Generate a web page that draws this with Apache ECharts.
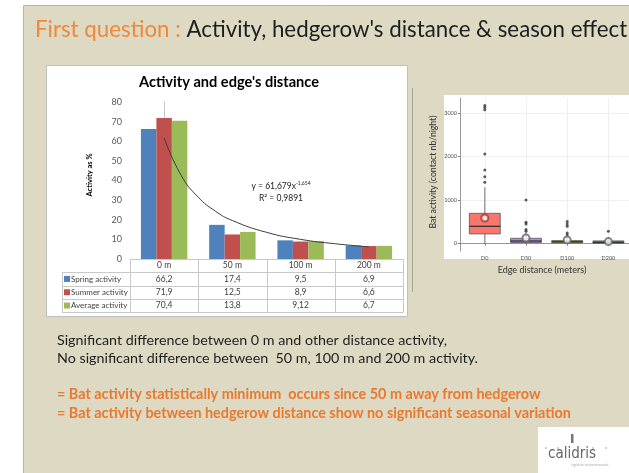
<!DOCTYPE html>
<html><head><meta charset="utf-8">
<script src="https://cdn.jsdelivr.net/npm/echarts@6.0.0/dist/echarts.min.js"></script>
<style>html,body{margin:0;padding:0;background:#fff}#c{width:629px;height:473px}</style>
</head><body><div id="c"></div>
<script>
// ---------- data ----------
const categories = ['0 m', '50 m', '100 m', '200 m'];
const seriesNames = ['Spring activity', 'Summer activity', 'Average activity'];
const springActivity = [66.2, 17.4, 9.5, 6.9];
const summerActivity = [71.9, 12.5, 8.9, 6.6];
const averageActivity = [70.4, 13.8, 9.12, 6.7];
// power trendline (x in category units)
const trendX = [0, 0.25, 0.5, 0.75, 1, 1.5, 2, 2.5, 3];
const trendY = [61.7, 42.6, 31.5, 24.4, 19.6, 13.6, 10.0, 7.8, 6.2];

const boxCategories = ['D0', 'D50', 'D100', 'D200'];
const boxMin = [0, 0, 0, 0];
const boxQ1 = [223, 25, 18, 8];
const boxMedian = [398, 60, 42, 30];
const boxQ3 = [697, 122, 69, 62];
const boxMax = [1295, 250, 150, 140];
const boxMean = [590, 130, 85, 46];
const outliersD0 = [1410, 1540, 1694, 2062, 3080, 3133, 3180];
const outliersD50 = [1004, 490, 452, 322, 283];
const outliersD100 = [506, 452, 398, 246, 200];
const outliersD200 = [283];
const boxTicks = [0, 1000, 2000, 3000];

const slideTitleA = 'First question : ';
const slideTitleB = "Activity, hedgerow's distance & season effect";
const chartTitle = "Activity and edge's distance";
const yName = 'Activity as %';
const trendEq = ['y = 61,679x', '-1,654', 'R² = 0,9891'];
const boxYName = 'Bat activity (contact nb/night)';
const boxXName = 'Edge distance (meters)';
const bodyLines = ['Significant difference between 0 m and other distance activity,',
                   'No significant difference between  50 m, 100 m and 200 m activity.'];
const conclLines = ['= Bat activity statistically minimum  occurs since 50 m away from hedgerow',
                    '= Bat activity between hedgerow distance show no significant seasonal variation'];

// ---------- styles / layout ----------
const FONT = 'Lato, "Open Sans", sans-serif';
const barColors = ['#4f81bd', '#c0504d', '#9bbb59'];
const boxColors = ['#F8766D', '#C77CFF', '#7CAE00', '#00BFC4'];
const G1 = {left: 130, top: 102, width: 273, height: 157};
const GA = {left: 460, top: 98, width: 175, height: 153};
const GB = {left: 464.2, top: 98, width: 166.7, height: 153};

const chart = echarts.init(document.getElementById('c'), null, {renderer: 'canvas'});
const fmt = v => String(v).replace('.', ',');
const allSeries = [springActivity, summerActivity, averageActivity];

const graphics = [];
// slide background
graphics.push({type: 'rect', z: -10, shape: {x: 23.5, y: 5.5, width: 620, height: 480},
  style: {fill: '#DDD9C3', stroke: '#b9b5a1', lineWidth: 1}});
// left chart panel
graphics.push({type: 'rect', z: -5, shape: {x: 46.5, y: 65.5, width: 361, height: 251},
  style: {fill: '#fff', stroke: '#bfbfbf', lineWidth: 1}});
// right figure frame line
graphics.push({type: 'line', z: -5, shape: {x1: 412.5, y1: 88, x2: 412.5, y2: 292}, style: {stroke: '#a9a595', lineWidth: 1}});
graphics.push({type: 'rect', z: -5, shape: {x: 444, y: 95, width: 200, height: 164}, style: {fill: '#fff'}});
// slide title
graphics.push({type: 'text', x: 35, y: 30, style: {
  text: '{o|' + slideTitleA + '}{k|' + slideTitleB + '}', verticalAlign: 'middle',
  rich: {o: {fill: '#f0883a', fontSize: 22.3, fontFamily: FONT}, k: {fill: '#1e1e1e', fontSize: 22.3, fontFamily: FONT}}}});
// chart title
graphics.push({type: 'text', x: 229, y: 82, style: {text: chartTitle, align: 'center', verticalAlign: 'middle',
  fontSize: 14.6, fontWeight: 'bold', fontFamily: FONT, fill: '#000'}});
graphics.push({type: 'text', x: 90, y: 175, rotation: Math.PI / 2, style: {text: yName, align: 'center', verticalAlign: 'middle',
  fontSize: 7.5, fontWeight: 'bold', fontFamily: FONT, fill: '#000'}});
graphics.push({type: 'text', x: 281, y: 186, style: {
  text: '{a|' + trendEq[0] + '}{s|' + trendEq[1] + '}', align: 'center', verticalAlign: 'middle',
  rich: {a: {fontSize: 8.5, fontFamily: FONT, fill: '#222'}, s: {fontSize: 5, fontFamily: FONT, fill: '#222', verticalAlign: 'top', padding: [0, 0, 6, 0]}}}});
graphics.push({type: 'text', x: 281, y: 198, style: {text: trendEq[2], align: 'center', verticalAlign: 'middle',
  fontSize: 8.5, fontFamily: FONT, fill: '#222'}});

// data table
const colW = G1.width / categories.length;
const tBottom = G1.top + G1.height;
const rowH = 13.3;
const legendLeft = 62;
const lineStyle = {stroke: '#c8c8c8', lineWidth: 1};
for (let r = 1; r <= 4; r++) {
  const y = Math.round(tBottom + rowH * r) + 0.5;
  graphics.push({type: 'line', shape: {x1: legendLeft, y1: y, x2: G1.left + G1.width, y2: y}, style: lineStyle});
}
const tEnd = Math.round(tBottom + rowH * 4) + 0.5;
graphics.push({type: 'line', shape: {x1: legendLeft + 0.5, y1: Math.round(tBottom + rowH) + 0.5, x2: legendLeft + 0.5, y2: tEnd}, style: lineStyle});
for (let c = 0; c <= categories.length; c++) {
  const x = Math.round(G1.left + colW * c) + 0.5;
  graphics.push({type: 'line', shape: {x1: x, y1: tBottom, x2: x, y2: tEnd}, style: lineStyle});
}
categories.forEach((cat, c) => {
  const cx = G1.left + colW * (c + 0.5);
  graphics.push({type: 'text', x: cx, y: tBottom + rowH * 0.5, style: {text: cat, align: 'center', verticalAlign: 'middle', fontSize: 8.5, fontFamily: FONT, fill: '#404040'}});
  allSeries.forEach((arr, s) => {
    graphics.push({type: 'text', x: cx, y: tBottom + rowH * (s + 1.5), style: {text: fmt(arr[c]), align: 'center', verticalAlign: 'middle', fontSize: 8.5, fontFamily: FONT, fill: '#404040'}});
  });
});
seriesNames.forEach((name, s) => {
  const y = tBottom + rowH * (s + 1.5);
  graphics.push({type: 'rect', shape: {x: 64, y: y - 3, width: 6, height: 6}, style: {fill: barColors[s]}});
  graphics.push({type: 'text', x: 71, y: y, style: {text: name, verticalAlign: 'middle', fontSize: 8, fontFamily: FONT, fill: '#404040'}});
});

// boxplot axis titles
graphics.push({type: 'text', x: 433, y: 172, rotation: Math.PI / 2, style: {text: boxYName, align: 'center', verticalAlign: 'middle',
  fontSize: 8.7, fontFamily: FONT, fill: '#333'}});
graphics.push({type: 'text', x: 542, y: 270, style: {text: boxXName, align: 'center', verticalAlign: 'middle',
  fontSize: 9, fontFamily: FONT, fill: '#333'}});

// body text
bodyLines.forEach((t, i) => graphics.push({type: 'text', x: 57, y: 340 + i * 18.5, style: {text: t, verticalAlign: 'middle', fontSize: 14.3, fontFamily: FONT, fill: '#1e1e1e'}}));
conclLines.forEach((t, i) => graphics.push({type: 'text', x: 57, y: 394.5 + i * 19, style: {text: t, verticalAlign: 'middle', fontSize: 14.4, fontWeight: 'bold', fontFamily: FONT, fill: '#e9792f'}}));

// logo
graphics.push({type: 'rect', shape: {x: 538, y: 427, width: 95, height: 50}, style: {fill: '#fff'}});
graphics.push({type: 'text', x: 572, y: 454, style: {text: 'calidris', align: 'center', verticalAlign: 'middle', fontSize: 15, fontFamily: '"Liberation Sans Narrow", "DejaVu Sans Condensed", "Open Sans", sans-serif', fill: '#666'}});
graphics.push({type: 'rect', shape: {x: 571, y: 434, width: 2.5, height: 9}, style: {fill: '#777'}});
graphics.push({type: 'text', x: 590, y: 465, style: {text: 'ingénierie environnementale', align: 'center', verticalAlign: 'middle', fontSize: 3, fontFamily: FONT, fill: '#aaa'}});
[546, 558, 593, 606].forEach(x => graphics.push({type: 'circle', shape: {cx: x, cy: 448, r: 0.8}, style: {fill: '#999'}}));

const boxData = boxCategories.map((c, i) => [i, boxMin[i], boxQ1[i], boxMedian[i], boxQ3[i], boxMax[i]]);
const outlierData = [];
[outliersD0, outliersD50, outliersD100, outliersD200].forEach((arr, i) => arr.forEach(v => outlierData.push([boxCategories[i], v])));

const option = {
  animation: false,
  grid: [
    Object.assign({}, G1),
    Object.assign({}, GA),
    Object.assign({}, GB)
  ],
  xAxis: [
    {type: 'category', gridIndex: 0, data: categories, axisLine: {show: true, lineStyle: {color: '#c8c8c8'}}, axisTick: {show: false}, axisLabel: {show: false}},
    {type: 'value', gridIndex: 0, min: -0.5, max: 3.5, show: false},
    {type: 'value', gridIndex: 1, min: 0, max: 1, axisLine: {show: true, lineStyle: {color: '#7f7f7f', width: 0.8}}, axisTick: {show: false}, axisLabel: {show: false}, splitLine: {show: false}},
    {type: 'category', gridIndex: 2, data: boxCategories, axisLine: {show: false},
      axisTick: {show: true, alignWithLabel: true, length: 2, lineStyle: {color: '#7f7f7f'}},
      axisLabel: {fontSize: 5.5, color: '#4d4d4d', margin: 4, fontFamily: FONT},
      splitLine: {show: true, alignWithLabel: true, lineStyle: {color: '#ececec', width: 0.8}}}
  ],
  yAxis: [
    {type: 'value', gridIndex: 0, min: 0, max: 80, interval: 10,
      axisLine: {show: true, lineStyle: {color: '#c8c8c8'}}, axisTick: {show: false},
      axisLabel: {fontSize: 9, color: '#595959', margin: 8, fontFamily: FONT}, splitLine: {show: false}},
    {type: 'value', gridIndex: 1, min: -170, max: 3350,
      axisLine: {show: true, lineStyle: {color: '#7f7f7f', width: 0.8}},
      axisTick: {show: true, length: 2, customValues: boxTicks, lineStyle: {color: '#7f7f7f'}},
      axisLabel: {fontSize: 5.5, color: '#4d4d4d', margin: 3, customValues: boxTicks, fontFamily: FONT, formatter: v => String(v)},
      splitLine: {show: true, lineStyle: {color: '#ececec', width: 0.8}}},
    {type: 'value', gridIndex: 2, min: -170, max: 3350, show: false}
  ],
  graphic: {elements: graphics},
  series: [
    {type: 'bar', name: seriesNames[0], xAxisIndex: 0, yAxisIndex: 0, data: springActivity, itemStyle: {color: barColors[0]}, barGap: '0%', barCategoryGap: '32%'},
    {type: 'bar', name: seriesNames[1], xAxisIndex: 0, yAxisIndex: 0, data: summerActivity, itemStyle: {color: barColors[1]}, barGap: '0%', barCategoryGap: '32%'},
    {type: 'bar', name: seriesNames[2], xAxisIndex: 0, yAxisIndex: 0, data: averageActivity, itemStyle: {color: barColors[2]}, barGap: '0%', barCategoryGap: '32%'},
    {type: 'line', xAxisIndex: 1, yAxisIndex: 0, data: trendX.map((x, i) => [x, trendY[i]]), smooth: true, symbol: 'none',
      lineStyle: {color: '#3c3c3c', width: 1}, z: 5},
    {type: 'custom', xAxisIndex: 3, yAxisIndex: 2, data: boxData, z: 3,
      renderItem: function (params, api) {
        const i = api.value(0);
        const lo = api.coord([i, api.value(1)]);
        const q1 = api.coord([i, api.value(2)]);
        const md = api.coord([i, api.value(3)]);
        const q3 = api.coord([i, api.value(4)]);
        const hi = api.coord([i, api.value(5)]);
        const w = api.size([1, 0])[0] * 0.75;
        const st = {stroke: '#555', lineWidth: 0.8};
        return {type: 'group', children: [
          {type: 'line', shape: {x1: lo[0], y1: lo[1], x2: q1[0], y2: q1[1]}, style: st},
          {type: 'line', shape: {x1: q3[0], y1: q3[1], x2: hi[0], y2: hi[1]}, style: st},
          {type: 'rect', shape: {x: q1[0] - w / 2, y: q3[1], width: w, height: Math.max(q1[1] - q3[1], 1)}, style: {fill: boxColors[params.dataIndex], stroke: '#555', lineWidth: 0.8}},
          {type: 'line', shape: {x1: md[0] - w / 2, y1: md[1], x2: md[0] + w / 2, y2: md[1]}, style: {stroke: '#333', lineWidth: 1.3}}
        ]};
      }},
    {type: 'scatter', xAxisIndex: 3, yAxisIndex: 2, data: outlierData, symbolSize: 3, itemStyle: {color: '#333'}, z: 4},
    {type: 'scatter', xAxisIndex: 3, yAxisIndex: 2, data: boxCategories.map((c, i) => [c, boxMean[i]]), symbol: 'emptyCircle', symbolSize: 7,
      itemStyle: {color: p => p.dataIndex === 0 ? '#a8342c' : '#666', borderWidth: 1}, z: 6}
  ]
};
chart.setOption(option);
</script></body></html>
